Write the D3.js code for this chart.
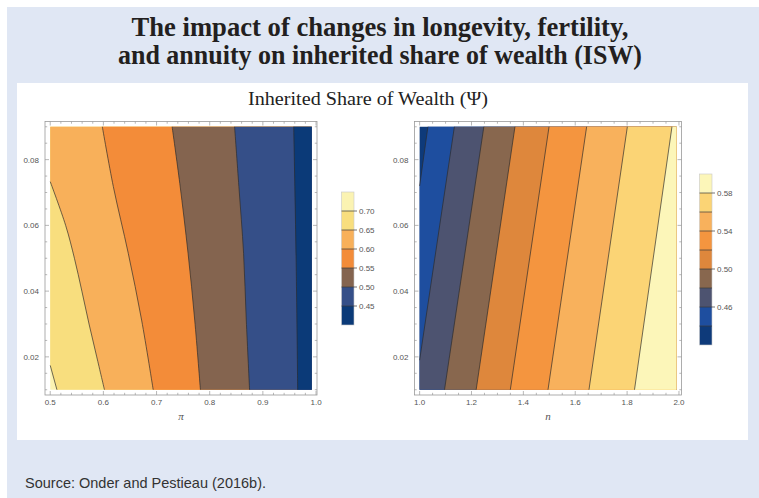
<!DOCTYPE html>
<html><head><meta charset="utf-8">
<script src="https://cdn.jsdelivr.net/npm/d3@7"></script>
<style>html,body{margin:0;padding:0;background:#fff;}svg{display:block;}</style>
</head><body>
<svg id="chart" width="759" height="498"></svg>
<script>
// ---------- text ----------
const titleLines = ["The impact of changes in longevity, fertility,", "and annuity on inherited share of wealth (ISW)"];
const subtitle = "Inherited Share of Wealth (\u03A8)";
const sourceText = "Source: Onder and Pestieau (2016b).";

// ---------- shared y axis (rho) ----------
const yRange = [0.01, 0.09];
const yTicks = [0.02, 0.04, 0.06, 0.08];

// ---------- left panel: pi ----------
const leftXRange = [0.5, 0.992];
const leftXTicks = [0.5, 0.6, 0.7, 0.8, 0.9, 1.0];
const leftXLabel = "\u03C0";
const leftLevels = [0.70, 0.65, 0.60, 0.55, 0.50, 0.45];
const leftContours = [
  [[0.5126, 0.01], [0.5, 0.0174]],
  [[0.602, 0.01], [0.5875, 0.02], [0.573, 0.03], [0.5595, 0.04], [0.5455, 0.05], [0.529, 0.06], [0.5, 0.0733]],
  [[0.6937, 0.01], [0.6719, 0.0312], [0.6468, 0.0515], [0.6187, 0.0718], [0.598, 0.09]],
  [[0.7825, 0.01], [0.7718, 0.0312], [0.7593, 0.0515], [0.7437, 0.0728], [0.7293, 0.09]],
  [[0.875, 0.01], [0.8688, 0.0312], [0.8637, 0.0515], [0.8549, 0.0718], [0.8468, 0.09]],
  [[0.9655, 0.01], [0.9625, 0.05], [0.958, 0.09]]
];
const leftLegendLabels = ["0.70", "0.65", "0.60", "0.55", "0.50", "0.45"];

// ---------- right panel: n ----------
const rightXRange = [1.0, 1.99];
const rightXTicks = [1.0, 1.2, 1.4, 1.6, 1.8, 2.0];
const rightXLabel = "n";
const rightLevels = [0.44, 0.46, 0.48, 0.50, 0.52, 0.54, 0.56, 0.58];
const rightContours = [
  [[1.0, 0.072], [1.032, 0.09]],
  [[1.0, 0.019], [1.134, 0.09]],
  [[1.096, 0.01], [1.2476, 0.09]],
  [[1.218, 0.01], [1.3676, 0.09]],
  [[1.3497, 0.01], [1.499, 0.09]],
  [[1.495, 0.01], [1.644, 0.09]],
  [[1.653, 0.01], [1.801, 0.09]],
  [[1.8286, 0.01], [1.973, 0.09]]
];
const rightLegendLabels = ["0.58", "0.54", "0.50", "0.46"];

// ---------- styles ----------
const leftBandColors = ["#FBF3B2", "#F8DE7E", "#F8B05A", "#F38C39", "#84644F", "#354F88", "#0B3A78"]; // left->right
const rightBandColors = ["#0E3A7A", "#1E4E9F", "#4D5370", "#88674E", "#DE873C", "#F4953F", "#F8B15C", "#FBD475", "#FCF6B9"]; // left->right
const sansFont = "'Liberation Sans', Arial, sans-serif";
const serifFont = "'Liberation Serif', 'Times New Roman', serif";
const tickColor = "#555";
const frameColor = "#9a9a9a";

const svg = d3.select("#chart");

// backgrounds
svg.append("rect").attr("x", 7).attr("y", 7).attr("width", 752).attr("height", 491).attr("fill", "#E0E7F4");
svg.append("rect").attr("x", 17).attr("y", 83).attr("width", 731).attr("height", 357).attr("fill", "#ffffff");

// title
const titleWidths = [497, 524];
svg.append("g").selectAll("text").data(titleLines).join("text")
  .attr("x", 380).attr("y", (d, i) => 36 + i * 28)
  .attr("text-anchor", "middle")
  .attr("font-family", serifFont).attr("font-weight", "bold").attr("font-size", 27)
  .attr("textLength", (d, i) => titleWidths[i]).attr("lengthAdjust", "spacingAndGlyphs")
  .attr("fill", "#231F20").text(d => d);

svg.append("text").attr("x", 368).attr("y", 105).attr("text-anchor", "middle")
  .attr("font-family", serifFont).attr("font-size", 19)
  .attr("textLength", 240).attr("lengthAdjust", "spacingAndGlyphs")
  .attr("fill", "#222").text(subtitle);

svg.append("text").attr("x", 25).attr("y", 488)
  .attr("font-family", sansFont).attr("font-size", 14.5).attr("fill", "#333").text(sourceText);

function drawPanel(cfg) {
  const g = svg.append("g");
  const pad = (cfg.xRange[1] - cfg.xRange[0]) * 0.02;
  const ypad = (yRange[1] - yRange[0]) * 0.02;
  const xs = d3.scaleLinear().domain([cfg.xRange[0] - pad, cfg.xRange[1] + pad]).range(cfg.frameX);
  const ys = d3.scaleLinear().domain([yRange[0] - ypad, yRange[1] + ypad]).range([395, 121.5]);
  const x0 = xs(cfg.xRange[0]), x1 = xs(cfg.xRange[1]);
  const y0 = ys(yRange[0]), y1 = ys(yRange[1]);

  // base band
  g.append("rect").attr("x", x0).attr("y", y1).attr("width", x1 - x0).attr("height", y0 - y1)
    .attr("fill", cfg.bandColors[0]);

  const line = d3.line().x(d => xs(d[0])).y(d => ys(d[1])).curve(d3.curveCatmullRom.alpha(0.5));

  cfg.contours.forEach((pts, i) => {
    let path = line(pts);
    const first = pts[0], last = pts[pts.length - 1];
    if (first[0] === cfg.xRange[0] && first[1] > yRange[0]) {
      path = `M${x0},${y0}L` + path.slice(1);
    }
    if (last[0] === cfg.xRange[0] && last[1] < yRange[1]) {
      path += `L${x0},${y1}`;
    }
    path += `L${x1},${y1}L${x1},${y0}Z`;
    g.append("path").attr("d", path).attr("fill", cfg.bandColors[i + 1]);
  });
  cfg.contours.forEach(pts => {
    g.append("path").attr("d", line(pts)).attr("fill", "none")
      .attr("stroke", "#2b2b2b").attr("stroke-width", 0.8).attr("stroke-opacity", 0.85);
  });

  // frame
  const fx0 = cfg.frameX[0], fx1 = cfg.frameX[1], fy0 = 395, fy1 = 121.5;
  g.append("rect").attr("x", fx0).attr("y", fy1).attr("width", fx1 - fx0).attr("height", fy0 - fy1)
    .attr("fill", "none").attr("stroke", frameColor).attr("stroke-width", 0.8);

  // ticks
  const minorX = d3.range(cfg.xTicks[0], cfg.xTicks[cfg.xTicks.length - 1] + 1e-9, cfg.minorStep);
  const minorY = d3.range(0.01, 0.09 + 1e-9, 0.005);
  const tk = g.append("g").attr("stroke", frameColor).attr("stroke-width", 0.7);
  const isMajor = (v, arr) => arr.some(t => Math.abs(t - v) < 1e-6);
  minorX.forEach(v => {
    const L = isMajor(v, cfg.xTicks) ? 4 : 2.2;
    const x = xs(v);
    if (x < fx0 - 0.5 || x > fx1 + 0.5) return;
    tk.append("line").attr("x1", x).attr("x2", x).attr("y1", fy0).attr("y2", fy0 - L);
    tk.append("line").attr("x1", x).attr("x2", x).attr("y1", fy1).attr("y2", fy1 + L);
  });
  minorY.forEach(v => {
    const L = isMajor(v, yTicks) ? 4 : 2.2;
    const y = ys(v);
    tk.append("line").attr("x1", fx0).attr("x2", fx0 + L).attr("y1", y).attr("y2", y);
    tk.append("line").attr("x1", fx1).attr("x2", fx1 - L).attr("y1", y).attr("y2", y);
  });

  // tick labels
  g.append("g").selectAll("text").data(cfg.xTicks).join("text")
    .attr("x", d => xs(d)).attr("y", 405).attr("text-anchor", "middle")
    .attr("font-family", sansFont).attr("font-size", 8).attr("fill", tickColor)
    .text(d => d3.format(".1f")(d));
  g.append("g").selectAll("text").data(yTicks).join("text")
    .attr("x", fx0 - 6).attr("y", d => ys(d) + 3).attr("text-anchor", "end")
    .attr("font-family", sansFont).attr("font-size", 8).attr("fill", tickColor)
    .text(d => d3.format(".2f")(d));
  g.append("text").attr("x", (x0 + x1) / 2).attr("y", 420).attr("text-anchor", "middle")
    .attr("font-family", serifFont).attr("font-style", "italic").attr("font-size", 11).attr("fill", tickColor)
    .text(cfg.xLabel);

  // legend
  const lg = svg.append("g");
  const ls = d3.scaleLinear().domain(cfg.legendDomain).range(cfg.legendRange);
  const topDown = cfg.legendTopDown;
  const edges = [cfg.legendDomain[0]].concat(cfg.legendLevels, [cfg.legendDomain[1]]);
  topDown.forEach((c, i) => {
    lg.append("rect").attr("x", cfg.legendX).attr("width", 12.5)
      .attr("y", ls(edges[i])).attr("height", ls(edges[i + 1]) - ls(edges[i])).attr("fill", c);
  });
  lg.append("rect").attr("x", cfg.legendX).attr("width", 12.5)
    .attr("y", cfg.legendRange[0]).attr("height", cfg.legendRange[1] - cfg.legendRange[0])
    .attr("fill", "none").attr("stroke", "#c8c8c8").attr("stroke-width", 0.6);
  cfg.legendLevels.forEach(v => {
    const labelled = cfg.legendLabels.includes(d3.format(".2f")(v));
    lg.append("line").attr("x1", cfg.legendX).attr("x2", cfg.legendX + 12.5 + (labelled ? 3 : 0))
      .attr("y1", ls(v)).attr("y2", ls(v)).attr("stroke", "#3a3a3a").attr("stroke-width", 0.7);
  });
  lg.selectAll("text.l").data(cfg.legendLabels).join("text")
    .attr("x", cfg.legendX + 17.5).attr("y", d => ls(+d) + 3)
    .attr("font-family", sansFont).attr("font-size", 8).attr("fill", tickColor).text(d => d);
}

drawPanel({
  xRange: leftXRange, xTicks: leftXTicks, minorStep: 0.02, xLabel: leftXLabel,
  frameX: [45, 317], contours: leftContours, bandColors: leftBandColors,
  legendDomain: [0.75, 0.40], legendRange: [192, 325], legendLevels: leftLevels,
  legendTopDown: leftBandColors, legendLabels: leftLegendLabels, legendX: 341.5
});
drawPanel({
  xRange: rightXRange, xTicks: rightXTicks, minorStep: 0.05, xLabel: rightXLabel,
  frameX: [414.5, 681.5], contours: rightContours, bandColors: rightBandColors,
  legendDomain: [0.60, 0.42], legendRange: [174, 345], legendLevels: rightLevels.slice().reverse(),
  legendTopDown: rightBandColors.slice().reverse(), legendLabels: rightLegendLabels, legendX: 699.5
});
</script>
</body></html>
